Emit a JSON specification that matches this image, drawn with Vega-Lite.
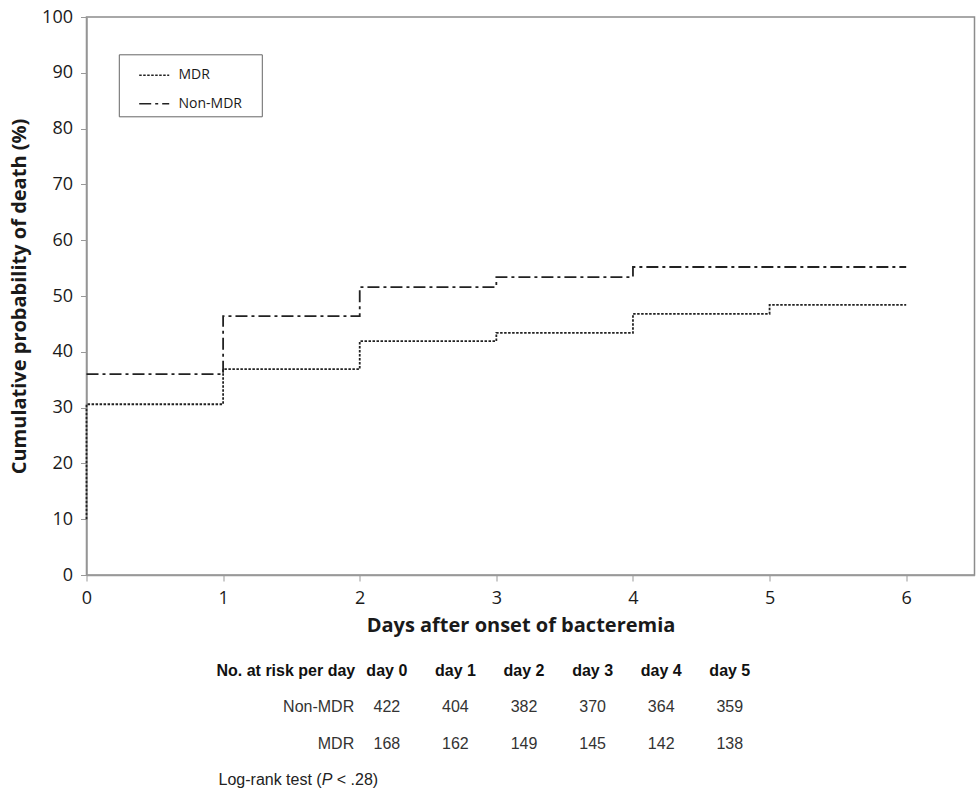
{
  "$schema": "https://vega.github.io/schema/vega-lite/v6.json",
  "padding": {"left": 7.5, "top": 7, "right": 0, "bottom": 0},
  "bounds": "flush",
  "spacing": 78,
  "config": {"view": {"stroke": null}, "font": "Open Sans"},
  "vconcat": [
    {
      "width": 888,
      "height": 558,
      "view": {"stroke": "#8c8c8c", "strokeWidth": 1.5},
      "data": {
        "values": [
          {"group": "MDR", "i": 0, "day": 0, "pct": 10},
          {"group": "MDR", "i": 1, "day": 0, "pct": 30.6},
          {"group": "MDR", "i": 2, "day": 1, "pct": 36.9},
          {"group": "MDR", "i": 3, "day": 2, "pct": 41.9},
          {"group": "MDR", "i": 4, "day": 3, "pct": 43.4},
          {"group": "MDR", "i": 5, "day": 4, "pct": 46.8},
          {"group": "MDR", "i": 6, "day": 5, "pct": 48.4},
          {"group": "MDR", "i": 7, "day": 6, "pct": 48.4},
          {"group": "Non-MDR", "i": 0, "day": 0, "pct": 36.0},
          {"group": "Non-MDR", "i": 1, "day": 1, "pct": 46.4},
          {"group": "Non-MDR", "i": 2, "day": 2, "pct": 51.6},
          {"group": "Non-MDR", "i": 3, "day": 3, "pct": 53.4},
          {"group": "Non-MDR", "i": 4, "day": 4, "pct": 55.2},
          {"group": "Non-MDR", "i": 5, "day": 6, "pct": 55.2}
        ]
      },
      "mark": {"type": "line", "interpolate": "step-after", "strokeWidth": 1.8, "color": "#222"},
      "encoding": {
        "x": {
          "field": "day", "type": "quantitative",
          "scale": {"domain": [0, 6.5], "nice": false, "zero": false},
          "axis": {
            "values": [0, 1, 2, 3, 4, 5, 6],
            "title": "Days after onset of bacteremia",
            "grid": false, "tickSize": 6, "labelPadding": 8, "labelFontSize": 18,
            "labelColor": "#1a1a1a", "domainColor": "#999", "tickColor": "#999", "domainWidth": 1.5,
            "titleFontSize": 20, "titleFontWeight": "bold", "titleColor": "#1a1a1a", "titlePadding": 8,
            "titleX": 434, "titleAnchor": "middle", "titleAlign": "center",
            "labelFlush": false
          }
        },
        "y": {
          "field": "pct", "type": "quantitative",
          "scale": {"domain": [0, 100], "nice": false},
          "axis": {
            "values": [0, 10, 20, 30, 40, 50, 60, 70, 80, 90, 100],
            "title": "Cumulative probability of death (%)",
            "grid": false, "tickSize": 6, "labelPadding": 8, "labelFontSize": 18,
            "labelColor": "#1a1a1a", "domainColor": "#999", "tickColor": "#999", "domainWidth": 1.5,
            "titleFontSize": 20, "titleFontWeight": "bold", "titleColor": "#1a1a1a", "titlePadding": 12.5,
            "labelFlush": false
          }
        },
        "strokeDash": {
          "field": "group", "type": "nominal",
          "scale": {"domain": ["MDR", "Non-MDR"], "range": [[2.5, 1.5], [12, 4, 3, 4]]},
          "legend": {
            "title": null, "orient": "none", "legendX": 32.3, "legendY": 37.3,
            "padding": 5, "strokeColor": "#666",
            "symbolType": "stroke", "symbolSize": 900, "symbolStrokeWidth": 1.6,
            "symbolStrokeColor": "#222", "symbolOffset": 14.4, "labelOffset": 8.3,
            "labelFontSize": 14, "labelColor": "#1a1a1a", "rowPadding": 5.5,
            "labelExpr": "datum.label + '\u00a0\u00a0\u00a0\u00a0\u200b'"
          }
        },
        "order": {"field": "i", "type": "quantitative"}
      }
    },
    {
      "width": 888,
      "height": 134.3,
      "data": {
        "values": [
          {"kind": "headlabel", "col": 0, "row": 0, "txt": "No. at risk per day"},
          {"kind": "head", "col": 1, "row": 0, "txt": "day 0"},
          {"kind": "head", "col": 2, "row": 0, "txt": "day 1"},
          {"kind": "head", "col": 3, "row": 0, "txt": "day 2"},
          {"kind": "head", "col": 4, "row": 0, "txt": "day 3"},
          {"kind": "head", "col": 5, "row": 0, "txt": "day 4"},
          {"kind": "head", "col": 6, "row": 0, "txt": "day 5"},
          {"kind": "label", "col": 0, "row": 1, "txt": "Non-MDR"},
          {"kind": "num", "col": 1, "row": 1, "txt": "422"},
          {"kind": "num", "col": 2, "row": 1, "txt": "404"},
          {"kind": "num", "col": 3, "row": 1, "txt": "382"},
          {"kind": "num", "col": 4, "row": 1, "txt": "370"},
          {"kind": "num", "col": 5, "row": 1, "txt": "364"},
          {"kind": "num", "col": 6, "row": 1, "txt": "359"},
          {"kind": "label", "col": 0, "row": 2, "txt": "MDR"},
          {"kind": "num", "col": 1, "row": 2, "txt": "168"},
          {"kind": "num", "col": 2, "row": 2, "txt": "162"},
          {"kind": "num", "col": 3, "row": 2, "txt": "149"},
          {"kind": "num", "col": 4, "row": 2, "txt": "145"},
          {"kind": "num", "col": 5, "row": 2, "txt": "142"},
          {"kind": "num", "col": 6, "row": 2, "txt": "138"},
          {"kind": "note1", "col": 0, "row": 3, "txt": "Log-rank test ("},
          {"kind": "note2", "col": 0, "row": 3, "txt": "P"},
          {"kind": "note3", "col": 0, "row": 3, "txt": "< .28)"}
        ]
      },
      "encoding": {
        "x": {"field": "col", "type": "quantitative", "scale": {"domain": [-3.378, 9.567], "nice": false, "zero": false}, "axis": null},
        "y": {"field": "row", "type": "quantitative", "scale": {"domain": [-0.5, 3.2], "reverse": true, "nice": false, "zero": false}, "axis": null},
        "text": {"field": "txt", "type": "nominal"}
      },
      "layer": [
        {"transform": [{"filter": "datum.kind === 'headlabel'"}], "mark": {"type": "text", "font": "Liberation Sans", "fontSize": 16, "fontWeight": "bold", "align": "right", "baseline": "middle", "dx": 37, "color": "#111"}},
        {"transform": [{"filter": "datum.kind === 'head'"}], "mark": {"type": "text", "font": "Liberation Sans", "fontSize": 16, "fontWeight": "bold", "align": "center", "baseline": "middle", "color": "#111"}},
        {"transform": [{"filter": "datum.kind === 'label'"}], "mark": {"type": "text", "font": "Liberation Sans", "fontSize": 16, "align": "right", "baseline": "middle", "dx": 36, "color": "#333"}},
        {"transform": [{"filter": "datum.kind === 'num'"}], "mark": {"type": "text", "font": "Liberation Sans", "fontSize": 16, "align": "center", "baseline": "middle", "color": "#333"}},
        {"transform": [{"filter": "datum.kind === 'note1'"}], "mark": {"type": "text", "font": "Liberation Sans", "fontSize": 16, "align": "left", "baseline": "middle", "dx": -99.7, "color": "#222"}},
        {"transform": [{"filter": "datum.kind === 'note2'"}], "mark": {"type": "text", "font": "Liberation Sans", "fontSize": 16, "fontStyle": "italic", "align": "left", "baseline": "middle", "dx": 3.5, "color": "#222"}},
        {"transform": [{"filter": "datum.kind === 'note3'"}], "mark": {"type": "text", "font": "Liberation Sans", "fontSize": 16, "align": "left", "baseline": "middle", "dx": 18.6, "color": "#222"}}
      ]
    }
  ]
}
